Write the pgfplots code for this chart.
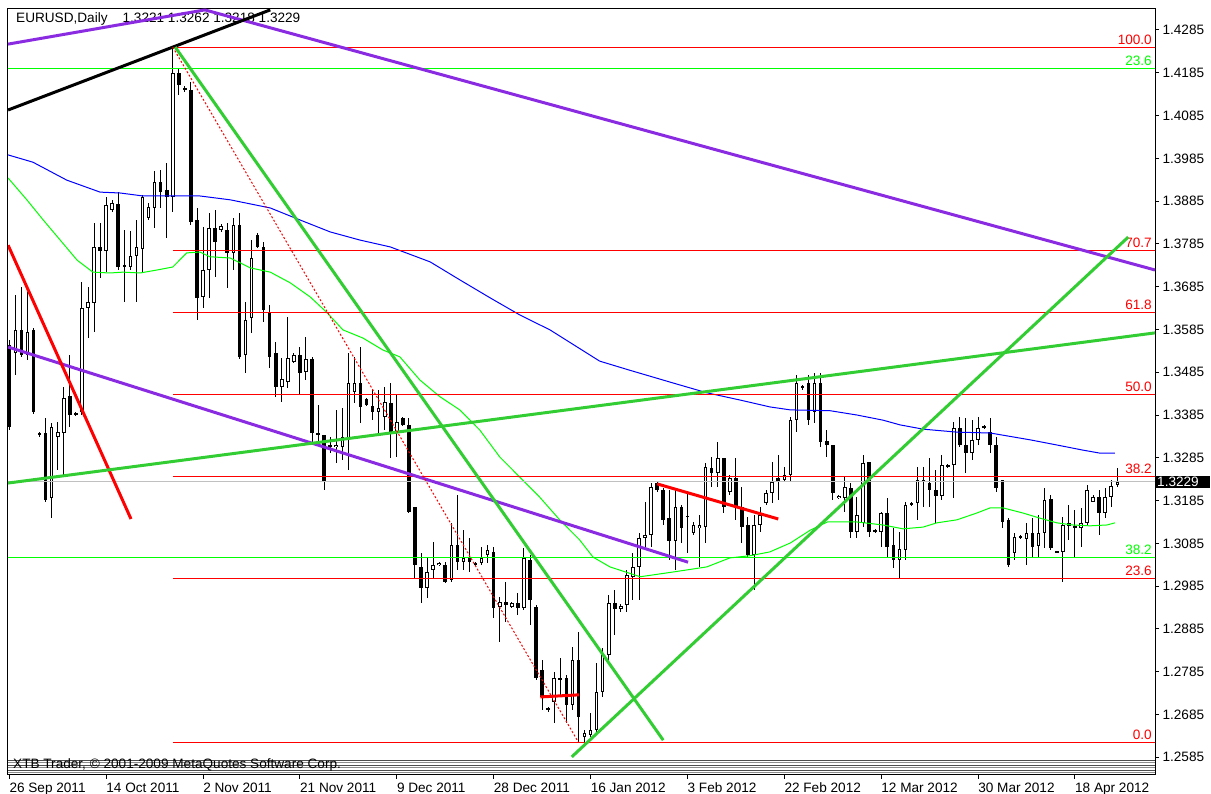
\documentclass[border=0pt]{standalone}
\usepackage{pgfplots}
\pgfplotsset{compat=1.18}
\usepackage{pgfplotstable}
\usepackage{fontspec}
\setmainfont{Liberation Sans}
\definecolor{mtpurple}{RGB}{138,43,226}
\definecolor{mtgreen}{RGB}{50,205,50}
\definecolor{mtlime}{RGB}{0,255,0}
\definecolor{mtred}{RGB}{255,0,0}
\definecolor{mtblue}{RGB}{0,0,255}
\definecolor{mtgray}{RGB}{192,192,192}
\newcommand\mtfont{\fontsize{13.6}{15}\selectfont}

\pgfplotstableread{
i o h l c
0 1.3549 1.3560 1.3350 1.3357
1 1.3530 1.3666 1.3479 1.3584
2 1.3584 1.3684 1.3521 1.3525
3 1.3525 1.3673 1.3514 1.3579
4 1.3584 1.3589 1.3387 1.3392
5 1.3343 1.3345 1.3334 1.3338
6 1.3343 1.3378 1.3182 1.3186
7 1.3191 1.3366 1.3144 1.3357
8 1.3334 1.3369 1.3257 1.3345
9 1.3343 1.3451 1.3240 1.3425
10 1.3430 1.3525 1.3357 1.3385
11 1.3390 1.3392 1.3383 1.3385
12 1.3392 1.3696 1.3385 1.3635
13 1.3635 1.3684 1.3565 1.3649
14 1.3647 1.3834 1.3579 1.3778
15 1.3778 1.3834 1.3705 1.3768
16 1.3768 1.3895 1.3719 1.3876
17 1.3864 1.3888 1.3860 1.3881
18 1.3878 1.3906 1.3724 1.3731
19 1.3736 1.3818 1.3649 1.3731
20 1.3731 1.3815 1.3724 1.3757
21 1.3757 1.3841 1.3649 1.3778
22 1.3773 1.3899 1.3717 1.3895
23 1.3846 1.3881 1.3841 1.3871
24 1.3869 1.3955 1.3822 1.3930
25 1.3930 1.3958 1.3869 1.3906
26 1.3911 1.3974 1.3799 1.3895
27 1.3895 1.4245 1.3860 1.4184
28 1.4184 1.4196 1.4133 1.4156
29 1.4149 1.4154 1.4140 1.4145
30 1.4145 1.4163 1.3829 1.3836
31 1.3841 1.3869 1.3607 1.3659
32 1.3661 1.3825 1.3635 1.3724
33 1.3724 1.3857 1.3659 1.3822
34 1.3822 1.3864 1.3708 1.3789
35 1.3818 1.3832 1.3813 1.3827
36 1.3818 1.3834 1.3682 1.3764
37 1.3764 1.3846 1.3724 1.3829
38 1.3829 1.3857 1.3516 1.3521
39 1.3525 1.3649 1.3483 1.3607
40 1.3612 1.3794 1.3577 1.3752
41 1.3806 1.3811 1.3775 1.3778
42 1.3778 1.3789 1.3603 1.3631
43 1.3624 1.3642 1.3495 1.3521
44 1.3530 1.3556 1.3428 1.3451
45 1.3451 1.3518 1.3416 1.3469
46 1.3462 1.3614 1.3449 1.3518
47 1.3509 1.3530 1.3507 1.3525
48 1.3525 1.3544 1.3432 1.3483
49 1.3486 1.3567 1.3467 1.3516
50 1.3516 1.3521 1.3320 1.3343
51 1.3343 1.3409 1.3320 1.3338
52 1.3338 1.3338 1.3210 1.3228
53 1.3315 1.3334 1.3296 1.3310
54 1.3310 1.3397 1.3273 1.3315
55 1.3310 1.3402 1.3280 1.3334
56 1.3331 1.3530 1.3257 1.3460
57 1.3439 1.3521 1.3413 1.3460
58 1.3460 1.3544 1.3366 1.3404
59 1.3423 1.3425 1.3406 1.3409
60 1.3406 1.3444 1.3373 1.3392
61 1.3392 1.3444 1.3338 1.3402
62 1.3380 1.3451 1.3350 1.3416
63 1.3413 1.3460 1.3285 1.3343
64 1.3343 1.3432 1.3287 1.3369
65 1.3378 1.3380 1.3360 1.3362
66 1.3362 1.3378 1.3156 1.3159
67 1.3170 1.3170 1.3004 1.3034
68 1.3030 1.3062 1.2946 1.2981
69 1.2981 1.3051 1.2957 1.3018
70 1.3023 1.3088 1.3004 1.3034
71 1.3034 1.3041 1.3032 1.3039
72 1.3034 1.3041 1.2993 1.2995
73 1.2999 1.3133 1.2995 1.3081
74 1.3081 1.3198 1.3023 1.3041
75 1.3041 1.3116 1.3023 1.3051
76 1.3051 1.3098 1.3018 1.3041
77 1.3039 1.3041 1.3032 1.3034
78 1.3039 1.3077 1.3034 1.3051
79 1.3058 1.3081 1.3039 1.3070
80 1.3065 1.3077 1.2911 1.2934
81 1.2937 1.2960 1.2854 1.2948
82 1.2948 1.2995 1.2901 1.2941
83 1.2937 1.2948 1.2934 1.2946
84 1.2946 1.2969 1.2918 1.2934
85 1.2934 1.3074 1.2929 1.3051
86 1.3046 1.3058 1.2894 1.2953
87 1.2937 1.2941 1.2766 1.2770
88 1.2789 1.2812 1.2696 1.2726
89 1.2696 1.2702 1.2691 1.2700
90 1.2714 1.2784 1.2665 1.2770
91 1.2766 1.2817 1.2731 1.2770
92 1.2770 1.2777 1.2665 1.2707
93 1.2707 1.2842 1.2696 1.2812
94 1.2812 1.2878 1.2620 1.2679
95 1.2632 1.2649 1.2620 1.2642
96 1.2637 1.2689 1.2632 1.2649
97 1.2649 1.2805 1.2642 1.2738
98 1.2738 1.2840 1.2726 1.2824
99 1.2824 1.2964 1.2812 1.2946
100 1.2946 1.2976 1.2870 1.2932
101 1.2932 1.2944 1.2925 1.2939
102 1.2941 1.3023 1.2925 1.3011
103 1.3007 1.3062 1.2953 1.3030
104 1.3030 1.3109 1.2953 1.3098
105 1.3098 1.3182 1.3077 1.3105
106 1.3105 1.3226 1.3077 1.3217
107 1.3226 1.3228 1.3205 1.3210
108 1.3210 1.3215 1.3128 1.3140
109 1.3144 1.3210 1.3046 1.3091
110 1.3091 1.3210 1.3023 1.3170
111 1.3170 1.3175 1.3086 1.3121
112 1.3147 1.3203 1.3062 1.3149
113 1.3109 1.3135 1.3105 1.3128
114 1.3121 1.3151 1.3030 1.3128
115 1.3123 1.3273 1.3086 1.3264
116 1.3261 1.3287 1.3217 1.3250
117 1.3250 1.3322 1.3217 1.3285
118 1.3285 1.3285 1.3156 1.3170
119 1.3205 1.3245 1.3198 1.3238
120 1.3238 1.3285 1.3140 1.3170
121 1.3170 1.3217 1.3086 1.3123
122 1.3128 1.3147 1.3053 1.3058
123 1.3058 1.3151 1.2976 1.3128
124 1.3128 1.3170 1.3112 1.3151
125 1.3179 1.3210 1.3175 1.3203
126 1.3203 1.3275 1.3179 1.3228
127 1.3238 1.3292 1.3186 1.3228
128 1.3233 1.3264 1.3228 1.3245
129 1.3245 1.3380 1.3228 1.3373
130 1.3373 1.3479 1.3345 1.3460
131 1.3449 1.3456 1.3444 1.3453
132 1.3460 1.3479 1.3362 1.3373
133 1.3392 1.3483 1.3366 1.3460
134 1.3460 1.3483 1.3310 1.3322
135 1.3324 1.3350 1.3287 1.3315
136 1.3315 1.3315 1.3186 1.3203
137 1.3191 1.3198 1.3189 1.3196
138 1.3191 1.3240 1.3159 1.3217
139 1.3215 1.3226 1.3098 1.3112
140 1.3112 1.3193 1.3098 1.3151
141 1.3133 1.3292 1.3123 1.3273
142 1.3275 1.3275 1.3100 1.3112
143 1.3116 1.3119 1.3109 1.3112
144 1.3112 1.3159 1.3077 1.3156
145 1.3156 1.3191 1.3053 1.3077
146 1.3081 1.3121 1.3027 1.3046
147 1.3046 1.3112 1.3004 1.3072
148 1.3070 1.3182 1.3046 1.3175
149 1.3179 1.3182 1.3172 1.3175
150 1.3179 1.3264 1.3140 1.3233
151 1.3233 1.3264 1.3170 1.3228
152 1.3226 1.3285 1.3170 1.3210
153 1.3210 1.3257 1.3133 1.3196
154 1.3196 1.3292 1.3186 1.3268
155 1.3268 1.3271 1.3261 1.3264
156 1.3268 1.3369 1.3191 1.3355
157 1.3355 1.3380 1.3310 1.3315
158 1.3315 1.3378 1.3250 1.3296
159 1.3296 1.3373 1.3280 1.3327
160 1.3327 1.3380 1.3315 1.3355
161 1.3357 1.3362 1.3352 1.3357
162 1.3345 1.3378 1.3296 1.3315
163 1.3315 1.3334 1.3205 1.3215
164 1.3233 1.3233 1.3121 1.3135
165 1.3140 1.3144 1.3030 1.3034
166 1.3062 1.3109 1.3046 1.3100
167 1.3100 1.3105 1.3096 1.3100
168 1.3096 1.3133 1.3034 1.3109
169 1.3109 1.3144 1.3053 1.3077
170 1.3079 1.3151 1.3053 1.3109
171 1.3109 1.3215 1.3074 1.3186
172 1.3189 1.3198 1.3070 1.3074
173 1.3067 1.3067 1.3062 1.3065
174 1.3065 1.3147 1.2995 1.3128
175 1.3133 1.3175 1.3093 1.3126
176 1.3126 1.3163 1.3053 1.3121
177 1.3121 1.3168 1.3077 1.3133
178 1.3133 1.3222 1.3128 1.3210
179 1.3182 1.3198 1.3182 1.3193
180 1.3193 1.3210 1.3105 1.3156
181 1.3156 1.3215 1.3144 1.3193
182 1.3193 1.3233 1.3170 1.3219
183 1.3221 1.3262 1.3218 1.3229
}\ohlc

\begin{document}
\begin{tikzpicture}
\useasboundingbox (0,0) rectangle (1211pt,794pt);
\begin{axis}[
  at={(8pt,19pt)}, anchor=south west,
  width=1147pt, height=766pt, scale only axis,
  xmin=-0.215, xmax=189.22, ymin=1.25436, ymax=1.43341,
  axis line style={black, line width=1pt},
  ytick={1.2585,1.2685,1.2785,1.2885,1.2985,1.3085,1.3185,1.3285,1.3385,1.3485,1.3585,1.3685,1.3785,1.3885,1.3985,1.4085,1.4185,1.4285},
  yticklabels={1.2585,1.2685,1.2785,1.2885,1.2985,1.3085,1.3185,1.3285,1.3385,1.3485,1.3585,1.3685,1.3785,1.3885,1.3985,1.4085,1.4185,1.4285},
  ytick pos=right, yticklabel pos=right,
  xtick={0,16,32,48,64,80,96,112,128,144,160,176},
  xticklabels={26 Sep 2011,14 Oct 2011,2 Nov 2011,21 Nov 2011,9 Dec 2011,28 Dec 2011,16 Jan 2012,3 Feb 2012,22 Feb 2012,12 Mar 2012,30 Mar 2012,18 Apr 2012},
  xtick pos=left,
  tick align=outside, major tick length=4pt,
  tick style={black, line width=1pt},
  xticklabel style={anchor=north west, inner xsep=0pt, font=\mtfont},
  yticklabel style={anchor=west, font=\mtfont},
  clip=true,
]
% header text
\node[anchor=west, font=\mtfont, inner sep=0pt] at (axis cs:-0.215,1.4311) [xshift=8pt] {EURUSD,Daily\hspace{15pt}1.3221 1.3262 1.3218 1.3229};

% candles: wicks
\addplot[draw=none, mark=none, forget plot,
  error bars/.cd, y dir=both, y explicit, error mark=none,
  error bar style={draw=black, line width=1pt}]
  table[x=i, y expr={(\thisrow{h}+\thisrow{l})/2}, y error expr={(\thisrow{h}-\thisrow{l})/2}] {\ohlc};
% bodies (black outline / black fill)
\addplot[draw=none, mark=none, forget plot,
  error bars/.cd, y dir=both, y explicit, error mark=none,
  error bar style={draw=black, line width=3.6pt}]
  table[x=i, y expr={(\thisrow{o}+\thisrow{c})/2}, y error expr={max(abs(\thisrow{c}-\thisrow{o})/2,0.00012)}] {\ohlc};
% white inside of rising candles
\addplot[draw=none, mark=none, forget plot,
  error bars/.cd, y dir=both, y explicit, error mark=none,
  error bar style={draw=white, line width=1.6pt}]
  table[x=i, y expr={(\thisrow{o}+\thisrow{c})/2}, y error expr={\thisrow{c}>\thisrow{o} ? max((\thisrow{c}-\thisrow{o})/2-0.00024,0) : 0}] {\ohlc};

% moving averages
\addplot[mtblue, line width=1pt] coordinates {
(-0.2,1.3993) (3.9,1.3976) (9.5,1.3934) (15.0,1.3906) (18.3,1.3904) (22.1,1.3897) (27.0,1.3897) (31.5,1.3897) (36.5,1.3888) (43.1,1.3869) (48.0,1.3841) (53.0,1.3813) (57.9,1.3794) (62.9,1.3778) (69.5,1.3743) (74.4,1.3701) (79.4,1.3659) (84.3,1.3619) (89.3,1.3584) (97.5,1.3511) (102.4,1.3490) (109.6,1.3460) (115.2,1.3437) (120.7,1.3420) (125.6,1.3404) (129.0,1.3397) (135.6,1.3395) (140.0,1.3385) (144.3,1.3373) (147.1,1.3362) (150.9,1.3352) (156.5,1.3345) (162.0,1.3343) (168.6,1.3327) (173.0,1.3315) (177.3,1.3303) (180.1,1.3296) (182.6,1.3296)};
\addplot[mtlime, line width=1pt] coordinates {
(-0.2,1.3939) (2.9,1.3888) (5.6,1.3841) (8.4,1.3794) (11.2,1.3747) (13.8,1.3719) (16.6,1.3717) (18.8,1.3719) (21.6,1.3717) (24.4,1.3724) (27.0,1.3731) (29.3,1.3764) (31.5,1.3766) (33.1,1.3755) (36.5,1.3752) (39.8,1.3729) (43.1,1.3719) (46.4,1.3694) (49.7,1.3661) (52.5,1.3624) (55.1,1.3584) (58.4,1.3565) (61.7,1.3537) (64.5,1.3521) (67.8,1.3467) (71.1,1.3428) (74.4,1.3397) (77.7,1.3350) (81.0,1.3287) (84.3,1.3240) (87.6,1.3193) (90.9,1.3140) (94.2,1.3093) (96.4,1.3053) (99.2,1.3030) (104.2,1.3007) (109.6,1.3018) (115.2,1.3030) (119.0,1.3051) (122.3,1.3056) (125.6,1.3065) (129.0,1.3086) (132.3,1.3116) (135.1,1.3135) (140.0,1.3135) (144.3,1.3128) (147.6,1.3119) (150.9,1.3123) (153.2,1.3133) (156.5,1.3140) (159.8,1.3156) (162.0,1.3168) (164.1,1.3168) (167.4,1.3156) (170.2,1.3144) (173.0,1.3133) (175.6,1.3128) (178.5,1.3126) (181.3,1.3128) (182.6,1.3133)};

% bottom separator stripes
\draw[black!70, line width=0.8pt] (axis cs:-0.215,1.25786) -- (axis cs:189.22,1.25786);
\draw[black!45, line width=0.8pt] (axis cs:-0.215,1.25728) -- (axis cs:189.22,1.25728);
\draw[black!70, line width=0.8pt] (axis cs:-0.215,1.25669) -- (axis cs:189.22,1.25669);
\draw[black!45, line width=0.8pt] (axis cs:-0.215,1.25611) -- (axis cs:189.22,1.25611);
\draw[black!70, line width=0.8pt] (axis cs:-0.215,1.25553) -- (axis cs:189.22,1.25553);
\draw[black!45, line width=0.8pt] (axis cs:-0.215,1.25494) -- (axis cs:189.22,1.25494);
\node[anchor=west, font=\mtfont, inner sep=0pt] at (axis cs:-0.215,1.2566) [xshift=5pt] {XTB Trader, © 2001-2009 MetaQuotes Software Corp.};

% horizontal levels
\addplot[mtgray, line width=1pt] coordinates {(-0.215,1.3229) (189.22,1.3229)};
\addplot[mtlime, line width=1pt] coordinates {(-0.215,1.4196) (189.22,1.4196)};
\addplot[mtlime, line width=1pt] coordinates {(-0.215,1.3053) (189.22,1.3053)};
\addplot[mtred, line width=1pt] coordinates {(27.0,1.4245) (189.22,1.4245)};
\addplot[mtred, line width=1pt] coordinates {(27.0,1.3769) (189.22,1.3769)};
\addplot[mtred, line width=1pt] coordinates {(27.0,1.3624) (189.22,1.3624)};
\addplot[mtred, line width=1pt] coordinates {(27.0,1.3433) (189.22,1.3433)};
\addplot[mtred, line width=1pt] coordinates {(27.0,1.3241) (189.22,1.3241)};
\addplot[mtred, line width=1pt] coordinates {(27.0,1.3004) (189.22,1.3004)};
\addplot[mtred, line width=1pt] coordinates {(27.0,1.2620) (189.22,1.2620)};

% level labels
\node[anchor=base east, text=mtred, font=\mtfont, inner sep=0pt] at (axis cs:189.22,1.4245) [xshift=-3pt, yshift=3pt] {100.0};
\node[anchor=base east, text=mtlime, font=\mtfont, inner sep=0pt] at (axis cs:189.22,1.4196) [xshift=-3pt, yshift=3pt] {23.6};
\node[anchor=base east, text=mtred, font=\mtfont, inner sep=0pt] at (axis cs:189.22,1.3769) [xshift=-3pt, yshift=3pt] {70.7};
\node[anchor=base east, text=mtred, font=\mtfont, inner sep=0pt] at (axis cs:189.22,1.3624) [xshift=-3pt, yshift=3pt] {61.8};
\node[anchor=base east, text=mtred, font=\mtfont, inner sep=0pt] at (axis cs:189.22,1.3433) [xshift=-3pt, yshift=3pt] {50.0};
\node[anchor=base east, text=mtred, font=\mtfont, inner sep=0pt] at (axis cs:189.22,1.3241) [xshift=-3pt, yshift=3pt] {38.2};
\node[anchor=base east, text=mtlime, font=\mtfont, inner sep=0pt] at (axis cs:189.22,1.3053) [xshift=-3pt, yshift=3pt] {38.2};
\node[anchor=base east, text=mtred, font=\mtfont, inner sep=0pt] at (axis cs:189.22,1.3004) [xshift=-3pt, yshift=3pt] {23.6};
\node[anchor=base east, text=mtred, font=\mtfont, inner sep=0pt] at (axis cs:189.22,1.2620) [xshift=-3pt, yshift=3pt] {0.0};

% trend lines
\addplot[mtpurple, line width=3pt] coordinates {(-0.2,1.4252) (32.3,1.4332)};
\addplot[mtpurple, line width=3pt] coordinates {(32.3,1.4332) (189.22,1.3724)};
\addplot[mtpurple, line width=3pt] coordinates {(-0.2,1.3544) (112.1,1.3041)};
\addplot[black, line width=3pt] coordinates {(-0.2,1.4098) (43.1,1.4332)};
\addplot[mtred, line width=3pt] coordinates {(-0.2,1.3782) (20.1,1.3142)};
\addplot[mtgreen, line width=3pt] coordinates {(27.4,1.4245) (108.0,1.2625)};
\addplot[mtgreen, line width=3pt] coordinates {(-0.2,1.3226) (189.22,1.3577)};
\addplot[mtgreen, line width=3pt] coordinates {(92.9,1.2586) (184.8,1.3801)};
\addplot[mtred, line width=3pt] coordinates {(107.0,1.3224) (127.0,1.3142)};
\addplot[mtred, line width=3pt] coordinates {(87.7,1.2726) (94.1,1.2731)};
\addplot[mtred, line width=1pt, dash pattern=on 2pt off 2pt] coordinates {(27,1.4245) (94,1.2620)};
\end{axis}
% current price box
\node[fill=black, text=white, anchor=west, font=\mtfont, inner xsep=1pt, inner ysep=1pt, text width=52pt, align=left] at (1156pt,{794pt-482pt}) {1.3229};
\end{tikzpicture}
\end{document}
